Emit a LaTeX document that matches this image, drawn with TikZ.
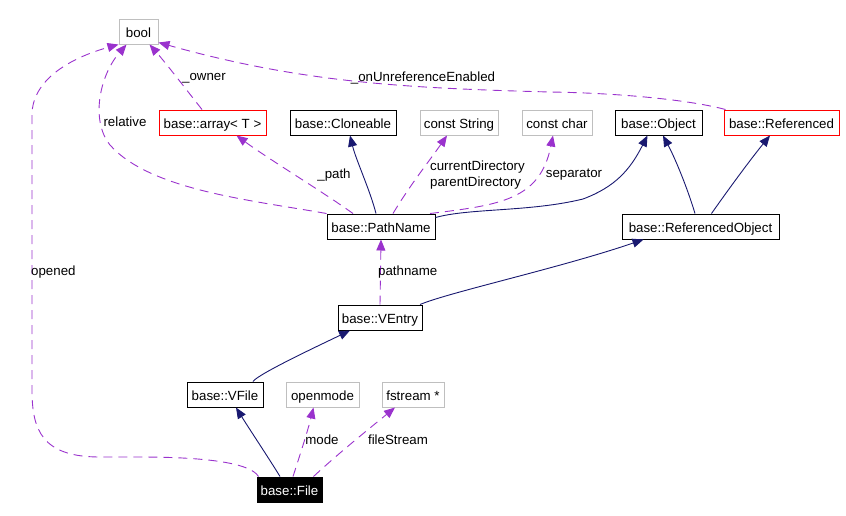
\documentclass[tikz,border=0pt]{standalone}
\usepackage{fontspec}
\setmainfont{Liberation Sans}
\usetikzlibrary{arrows.meta}
\definecolor{edgepurple}{HTML}{9A32CD}
\definecolor{edgenavy}{HTML}{191970}
\definecolor{boxgray}{HTML}{BFBFBF}
\begin{document}
\begin{tikzpicture}[x=1pt,y=-1pt,
  every node/.style={font=\fontsize{13.3}{16}\selectfont},
  cls/.style={draw=black,line width=1pt,minimum height=25pt,inner sep=0pt,fill=white,text height=12pt,text depth=0pt},
  grayBox/.style={cls,draw=boxgray},
  redBox/.style={cls,draw=red},
  fileBox/.style={cls,fill=black,text=white},
  inh/.style={draw=edgenavy,line width=0.9pt,-{Triangle[length=11pt,width=9pt]},fill=none},
  usage/.style={draw=edgepurple,line width=0.9pt,dash pattern=on 9pt off 6pt,-{Triangle[length=11pt,width=9pt]}},
  lbl/.style={inner sep=0pt,text=black}
]
\useasboundingbox (0,0) rectangle (846,515);

% nodes
\node[grayBox,minimum width=39pt]  (bool)   at (138.5,31.5) {bool};
\node[redBox,minimum width=107pt]  (array)  at (212.5,122.5) {base::array< T >};
\node[cls,minimum width=106pt]     (clone)  at (343,122.5) {base::Cloneable};
\node[grayBox,minimum width=78pt]  (cstr)   at (459,122.5) {const String};
\node[grayBox,minimum width=70pt]  (cchar)  at (557,122.5) {const char};
\node[cls,minimum width=87pt]      (obj)    at (658.5,122.5) {base::Object};
\node[redBox,minimum width=115pt]  (refd)   at (781.5,122.5) {base::Referenced};
\node[cls,minimum width=108pt]     (path)   at (381,226.5) {base::PathName};
\node[cls,minimum width=157pt]     (refobj) at (700.5,226.5) {base::ReferencedObject};
\node[cls,minimum width=84pt]      (ventry) at (380,317.5) {base::VEntry};
\node[cls,minimum width=76pt]      (vfile)  at (225,394.5) {base::VFile};
\node[grayBox,minimum width=73pt]  (omode)  at (322.5,394.5) {openmode};
\node[grayBox,minimum width=62pt]  (fstr)   at (413,394.5) {fstream *};
\node[fileBox,minimum width=65pt]  (file)   at (289.5,489.5) {base::File};

% File edges
\draw[inh] ([xshift=-9.5pt]file.north) .. controls (270,460) and (250,430) .. ([xshift=11pt]vfile.south);
\draw[usage] ([xshift=3.5pt]file.north) .. controls (299,458) and (308,430) .. ([xshift=-9pt]omode.south);
\draw[usage] ([xshift=24pt]file.north) .. controls (340,452) and (370,428) .. ([xshift=-18pt]fstr.south);
\draw[usage] ([xshift=-31pt]file.north) .. controls (250,462) and (200,457) .. (140,457)
  -- (100,457) .. controls (42,457) and (32,430) .. (32,390)
  -- (32,115) .. controls (32,80) and (70,58) .. (bool.south west);
\node[lbl,anchor=west] (lopened) at (31,272) {opened};
\node[lbl] (lmode) at (322,440) {mode};
\node[lbl] (lfs) at (398,440) {fileStream};

% VEntry / VFile
\draw[inh] ([xshift=28pt]vfile.north) .. controls (258,374) and (320,345) .. ([xshift=-30pt]ventry.south);
\draw[usage] (ventry.north) -- (path.south);
\node[lbl,anchor=west] (lpathname) at (378,272) {pathname};
\draw[inh] ([xshift=40pt]ventry.north) .. controls (450,292) and (560,268) .. ([xshift=-57pt]refobj.south);

% PathName edges
\draw[inh] ([xshift=-5pt]path.north) .. controls (370,190) and (356,160) .. ([xshift=7pt]clone.south);
\draw[usage] ([xshift=-28pt]path.north) .. controls (320,190) and (270,160) .. ([xshift=24pt]array.south);
\node[lbl] (lpath) at (334,175) {\_path};
\draw[usage] ([xshift=12pt]path.north) .. controls (410,185) and (430,160) .. ([xshift=-12pt]cstr.south);
\node[lbl,anchor=west,align=left] (lcur) at (430,175.5) {currentDirectory\\parentDirectory};
\draw[usage] ([xshift=49pt]path.north) .. controls (500,205) and (540,200) .. ([xshift=-4pt]cchar.south);
\node[lbl] (lsep) at (574,175) {separator};
\draw[inh] ([yshift=-4pt]path.north east) .. controls (470,208) and (530,212) .. (583,199)
  .. controls (615,187) and (630,170) .. ([xshift=-11pt]obj.south);
\draw[usage] (path.north west) .. controls (250,200) and (150,190) .. (110,145)
  .. controls (90,120) and (100,75) .. ([xshift=-12pt]bool.south);
\node[lbl] (lrel) at (125,122) {relative};

% ReferencedObject edges
\draw[inh] ([xshift=-5.5pt]refobj.north) .. controls (688,190) and (676,160) .. ([xshift=4.5pt]obj.south);
\draw[inh] ([xshift=11pt]refobj.north) .. controls (728,190) and (750,160) .. ([xshift=-11.5pt]refd.south);

% to bool
\draw[usage] ([xshift=-10.5pt]array.north) .. controls (185,88) and (165,62) .. ([xshift=11pt]bool.south);
\node[lbl] (lowner) at (204,78) {\_owner};
\draw[usage] ([xshift=2pt]refd.north west) .. controls (690,100) and (620,93) .. (550,92)
  .. controls (400,88) and (300,82) .. ([yshift=2pt]bool.south east);
\node[lbl] (lonu) at (423,78) {\_onUnreferenceEnabled};
\end{tikzpicture}
\end{document}
